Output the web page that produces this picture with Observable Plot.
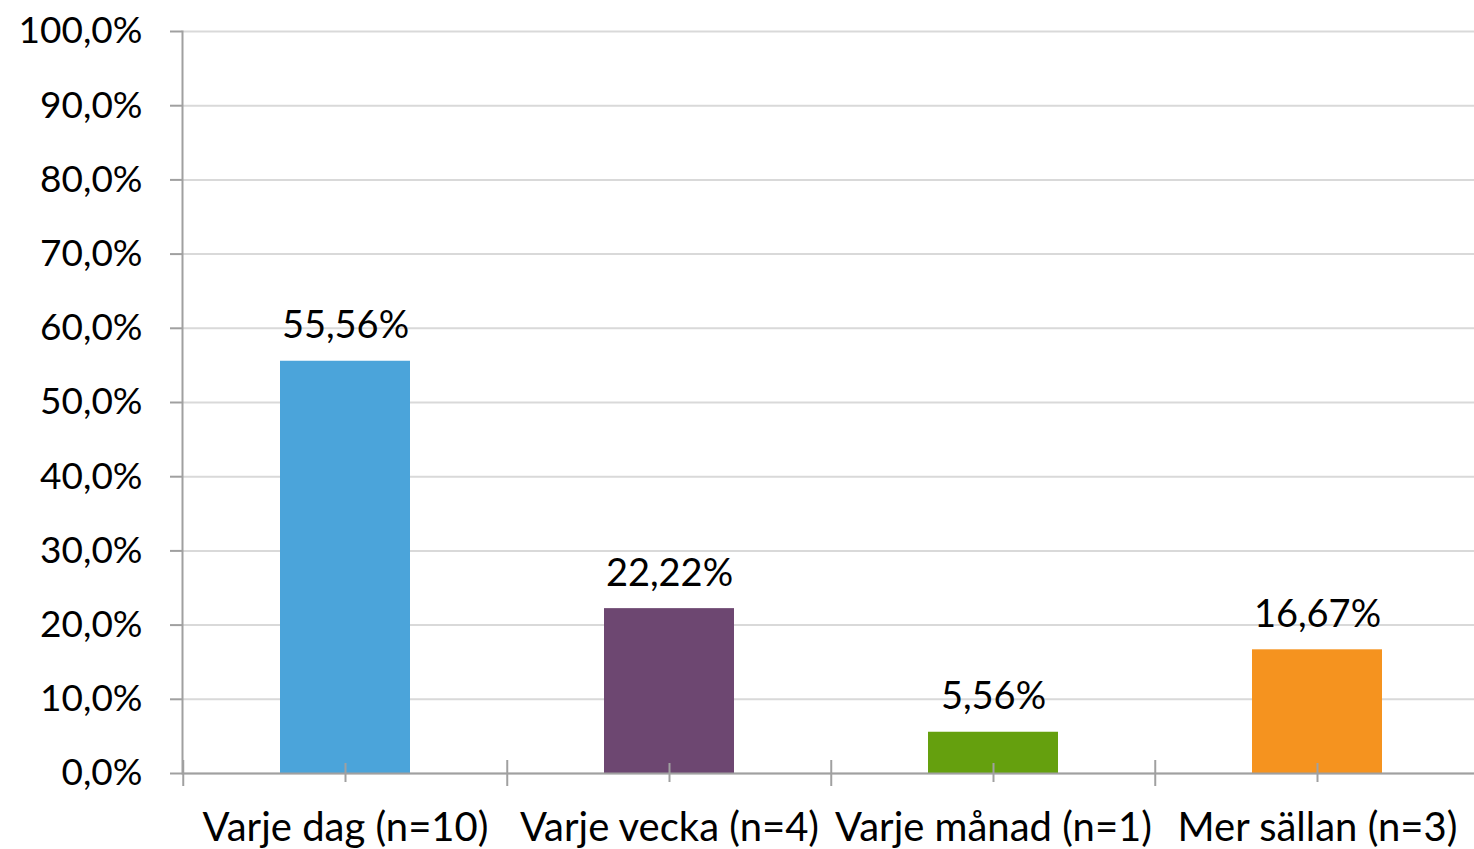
<!DOCTYPE html>
<html>
<head>
<meta charset="utf-8">
<script src="https://cdn.jsdelivr.net/npm/d3@7"></script>
<script src="https://cdn.jsdelivr.net/npm/@observablehq/plot@0.6"></script>
<style>
  html, body { margin: 0; padding: 0; background: white; overflow: hidden; }
</style>
</head>
<body>
<div id="chart"></div>
<script>
const categories = ["Varje dag (n=10)", "Varje vecka (n=4)", "Varje månad (n=1)", "Mer sällan (n=3)"];
const values = [55.56, 22.22, 5.56, 16.67];
const valueLabels = ["55,56%", "22,22%", "5,56%", "16,67%"];
const colors = ["#4BA4DA", "#6D4771", "#65A00E", "#F5931F"];
const yTicks = [0, 10, 20, 30, 40, 50, 60, 70, 80, 90, 100];

const data = categories.map((c, i) => ({category: c, value: values[i], label: valueLabels[i], color: colors[i]}));

const W = 1474, H = 849;
const mLeft = 182, mRight = -6, mTop = 31, mBottom = 76;
const step = (W - mLeft - mRight) / categories.length;
const plotH = H - mTop - mBottom;
const font = "Lato, 'Open Sans', sans-serif";
const axisColor = "#a0a0a0";

const chart = Plot.plot({
  width: W,
  height: H,
  marginLeft: mLeft,
  marginRight: mRight,
  marginTop: mTop,
  marginBottom: mBottom,
  style: {fontFamily: font, background: "white"},
  x: {domain: categories, paddingInner: 0.6, paddingOuter: 0.3, label: null},
  y: {domain: [0, 100], label: null},
  marks: [
    Plot.gridY(yTicks, {stroke: "#d9d9d9", strokeOpacity: 1, strokeWidth: 2}),
    Plot.barY(data, {x: "category", y: "value", fill: "color"}),
    Plot.ruleY([0], {stroke: axisColor, strokeWidth: 2}),
    Plot.frame({anchor: "left", stroke: axisColor, strokeWidth: 2}),
    Plot.tickX(categories, {x: d => d, dx: -step / 2, stroke: axisColor, strokeWidth: 2, insetTop: plotH - 13, insetBottom: -13}),
    Plot.tickX(categories, {x: d => d, stroke: axisColor, strokeWidth: 2, insetTop: plotH - 10, insetBottom: -9}),
    Plot.axisY(yTicks, {
      tickSize: 12, tickPadding: 28, stroke: axisColor, strokeWidth: 2, fill: "black",
      fontSize: 37, fontFamily: font,
      tickFormat: d => d.toFixed(1).replace(".", ",") + "%"
    }),
    Plot.axisX({tickSize: 0, tickPadding: 39, fontSize: 40, fontFamily: font, fill: "black"}),
    Plot.text(data, {x: "category", y: "value", text: "label", lineAnchor: "bottom", dy: -23, fontSize: 38, fontFamily: font, fill: "black"})
  ]
});
document.getElementById("chart").appendChild(chart);
</script>
</body>
</html>
